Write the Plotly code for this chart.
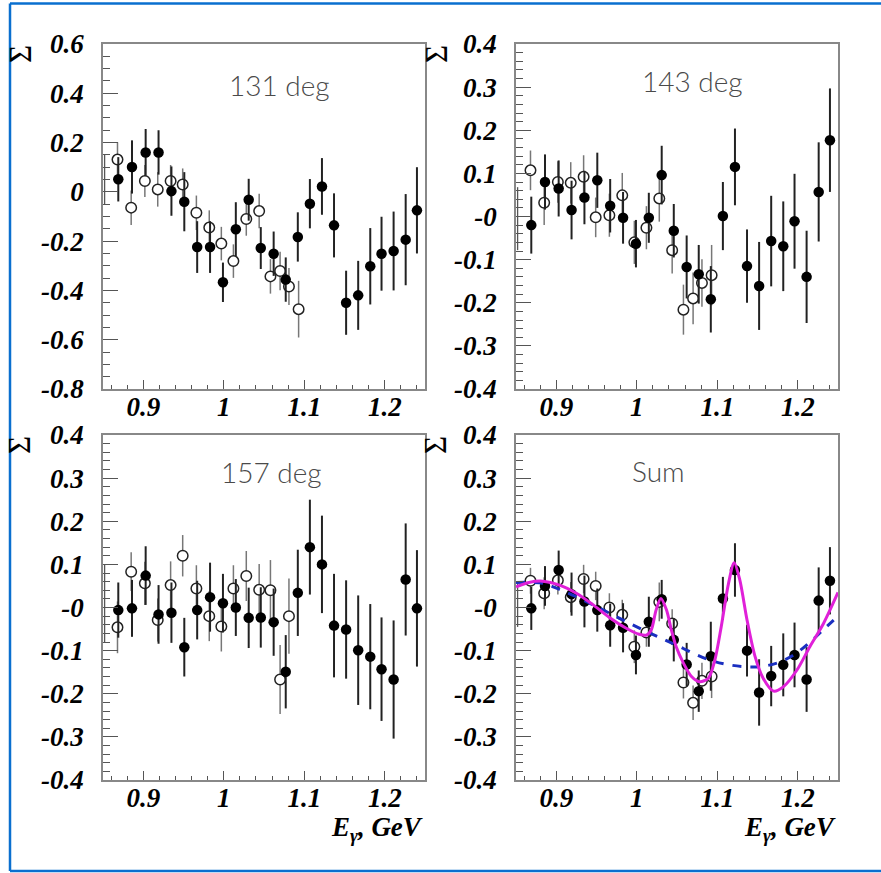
import plotly.graph_objects as go

# ---------------- data ----------------
E_FILLED = [0.869, 0.886, 0.903, 0.919, 0.935, 0.951, 0.967, 0.983, 0.999, 1.015, 1.031, 1.046, 1.062,
            1.077, 1.092, 1.107, 1.122, 1.137, 1.152, 1.167, 1.182, 1.196, 1.211, 1.226, 1.240]
E_OPEN = [0.868, 0.885, 0.902, 0.918, 0.934, 0.949, 0.966, 0.982, 0.997, 1.012, 1.028, 1.044, 1.058,
          1.070, 1.081, 1.093]

# 131 deg
s131_filled = [0.051, 0.101, 0.160, 0.160, 0.003, -0.040, -0.224, -0.224, -0.367, -0.152, -0.032, -0.228, -0.251,
               -0.356, -0.183, -0.048, 0.022, -0.136, -0.450, -0.420, -0.302, -0.251, -0.240, -0.194, -0.075]
e131_filled = [0.09, 0.108, 0.095, 0.09, 0.10, 0.12, 0.105, 0.105, 0.08, 0.11, 0.085, 0.085, 0.09,
               0.09, 0.10, 0.10, 0.115, 0.13, 0.13, 0.14, 0.155, 0.15, 0.16, 0.185, 0.175]
s131_open = [0.131, -0.064, 0.044, 0.010, 0.044, 0.030, -0.085, -0.145, -0.210, -0.281, -0.110, -0.078, -0.343,
             -0.321, -0.384, -0.476]
e131_open = [0.07, 0.07, 0.065, 0.07, 0.065, 0.065, 0.07, 0.07, 0.068, 0.068, 0.068, 0.07, 0.07, 0.078, 0.075, 0.115]

# 143 deg
s143_filled = [-0.020, 0.080, 0.065, 0.015, 0.044, 0.084, 0.025, -0.003, -0.063, -0.003, 0.096, -0.033, -0.117,
               -0.134, -0.192, 0.001, 0.115, -0.115, -0.161, -0.057, -0.069, -0.011, -0.140, 0.057, 0.177]
e143_filled = [0.066, 0.064, 0.065, 0.068, 0.062, 0.064, 0.062, 0.06, 0.055, 0.058, 0.068, 0.062, 0.073,
               0.068, 0.077, 0.079, 0.089, 0.085, 0.102, 0.105, 0.104, 0.11, 0.107, 0.115, 0.12]
s143_open = [0.107, 0.032, 0.080, 0.078, 0.092, -0.002, 0.003, 0.049, -0.060, -0.026, 0.042, -0.078, -0.216,
             -0.190, -0.154, -0.136]
e143_open = [0.046, 0.052, 0.048, 0.048, 0.05, 0.046, 0.05, 0.052, 0.05, 0.05, 0.054, 0.054, 0.058, 0.06, 0.055, 0.07]

# 157 deg
s157_filled = [-0.006, -0.002, 0.074, -0.016, -0.012, -0.092, -0.006, 0.024, 0.010, 0.000, -0.024, -0.023, -0.034,
               -0.149, 0.034, 0.140, 0.100, -0.042, -0.051, -0.099, -0.114, -0.143, -0.167, 0.065, -0.002]
e157_filled = [0.064, 0.066, 0.068, 0.068, 0.07, 0.068, 0.068, 0.08, 0.068, 0.066, 0.07, 0.07, 0.078,
               0.085, 0.1, 0.11, 0.113, 0.12, 0.114, 0.127, 0.122, 0.12, 0.137, 0.13, 0.135]
s157_open = [-0.046, 0.083, 0.056, -0.029, 0.052, 0.120, 0.044, -0.020, -0.044, 0.044, 0.073, 0.041, 0.040,
             -0.167, -0.020]
e157_open = [0.06, 0.045, 0.05, 0.05, 0.055, 0.048, 0.054, 0.058, 0.058, 0.054, 0.058, 0.06, 0.07, 0.08, 0.087]

# Sum
sSum_filled = [-0.002, 0.050, 0.087, 0.031, 0.014, -0.006, -0.041, -0.047, -0.110, -0.033, 0.019, -0.075, -0.132,
               -0.194, -0.113, 0.021, 0.087, -0.100, -0.197, -0.159, -0.133, -0.110, -0.167, 0.016, 0.062]
eSum_filled = [0.05, 0.046, 0.045, 0.05, 0.06, 0.05, 0.05, 0.057, 0.045, 0.058, 0.045, 0.05, 0.05,
               0.048, 0.08, 0.05, 0.062, 0.06, 0.077, 0.07, 0.073, 0.075, 0.075, 0.077, 0.078]
sSum_open = [0.062, 0.033, 0.063, 0.024, 0.066, 0.050, 0.000, -0.017, -0.091, -0.058, 0.013, -0.037, -0.174,
             -0.221, -0.170, -0.160]
eSum_open = [0.03, 0.037, 0.033, 0.035, 0.033, 0.033, 0.033, 0.035, 0.038, 0.033, 0.045, 0.033, 0.037, 0.04, 0.042, 0.05]

# fitted curves (Sum panel)
fit_res_E = [0.850, 0.866, 0.883, 0.904, 0.925, 0.946, 0.966, 0.987, 1.003, 1.012, 1.018, 1.024, 1.030, 1.037,
             1.043, 1.049, 1.058, 1.068, 1.078, 1.089, 1.097, 1.105, 1.114, 1.121, 1.128, 1.137, 1.147, 1.157,
             1.170, 1.182, 1.199, 1.215, 1.232, 1.250]
fit_res_S = [0.048, 0.058, 0.061, 0.052, 0.033, 0.006, -0.023, -0.048, -0.062, -0.064, -0.052, -0.006, 0.021, -0.006,
             -0.052, -0.091, -0.129, -0.160, -0.172, -0.164, -0.122, -0.044, 0.056, 0.104, 0.064, -0.029, -0.114, -0.164,
             -0.194, -0.184, -0.145, -0.091, -0.037, 0.035]
fit_bg_E = [0.850, 0.883, 0.904, 0.925, 0.946, 0.966, 0.987, 1.008, 1.028, 1.049, 1.070, 1.091, 1.112, 1.133,
            1.153, 1.174, 1.195, 1.216, 1.236, 1.250]
fit_bg_S = [0.058, 0.056, 0.042, 0.025, 0.006, -0.013, -0.033, -0.052, -0.069, -0.087, -0.106, -0.122, -0.132, -0.137,
            -0.137, -0.129, -0.110, -0.079, -0.044, -0.020]

# stray first-bin error lines at the left edge (as in the original)
edge_E = 0.852
edge_S = [0.05, -0.005, 0.01, 0.008]
edge_err = [0.10, 0.073, 0.09, 0.053]

panels = [
    ("131 deg", s131_filled, e131_filled, s131_open, e131_open, [-0.8, 0.6], 0.2, 0.05),
    ("143 deg", s143_filled, e143_filled, s143_open, e143_open, [-0.4, 0.4], 0.1, 0.02),
    ("157 deg", s157_filled, e157_filled, s157_open, e157_open, [-0.4, 0.4], 0.1, 0.02),
    ("Sum", sSum_filled, eSum_filled, sSum_open, eSum_open, [-0.4, 0.4], 0.1, 0.02),
]
X_TICKS = [0.9, 1.0, 1.1, 1.2]
X_TICKTEXT = ["0.9", "1", "1.1", "1.2"]

# ---------------- layout geometry (pixels) ----------------
W, H = 881, 873
px_x = [(103, 425), (516, 838), (103, 425), (516, 838)]
px_y = [(44, 389), (44, 389), (435, 780), (435, 780)]
title_pos = [(0.547, 0.881), (0.548, 0.893), (0.522, 0.894), (0.444, 0.896)]

fig = go.Figure()
tick_font = dict(family="Liberation Serif", size=27, color="black", weight="bold", style="italic")
layout = dict(width=W, height=H, margin=dict(l=0, r=0, t=0, b=0, autoexpand=False), paper_bgcolor="white",
              plot_bgcolor="white", showlegend=False)
annotations = []

for i, (name, sf, ef, so, eo, yr, ymaj, ymin) in enumerate(panels):
    n = i + 1
    xa = "x" if n == 1 else f"x{n}"
    ya = "y" if n == 1 else f"y{n}"
    # stray edge error line
    fig.add_trace(go.Scatter(x=[edge_E], y=[edge_S[i]], mode="markers", xaxis=xa, yaxis=ya,
                             marker=dict(size=1, color="rgba(0,0,0,0)"),
                             error_y=dict(type="data", array=[edge_err[i]], width=0, thickness=1.3, color="#555")))
    eo_x = E_OPEN[:len(so)]
    fig.add_trace(go.Scatter(x=eo_x, y=so, mode="markers", xaxis=xa, yaxis=ya,
                             marker=dict(symbol="circle", size=10.5, color="white", line=dict(color="#222", width=1.5)),
                             error_y=dict(type="data", array=eo, width=0, thickness=1.5, color="#777")))
    fig.add_trace(go.Scatter(x=E_FILLED, y=sf, mode="markers", xaxis=xa, yaxis=ya,
                             marker=dict(symbol="circle", size=10.5, color="black", line=dict(color="black", width=0)),
                             error_y=dict(type="data", array=ef, width=0, thickness=2, color="#222")))
    if name == "Sum":
        fig.add_trace(go.Scatter(x=fit_bg_E, y=fit_bg_S, mode="lines", xaxis=xa, yaxis=ya,
                                 line=dict(color="#1a2fc0", width=3, dash="dash", shape="spline")))
        fig.add_trace(go.Scatter(x=fit_res_E, y=fit_res_S, mode="lines", xaxis=xa, yaxis=ya,
                                 line=dict(color="#e020d8", width=3, shape="spline", smoothing=0.8)))

    x0, x1 = px_x[i]
    y0, y1 = px_y[i]
    nyt = int(round((yr[1] - yr[0]) / ymaj))
    yvals = [round(yr[0] + k * ymaj, 3) for k in range(nyt + 1)]
    if n == 1:
        ytext = [("0" if abs(v) < 1e-9 else f"{v:g}") for v in yvals]
    else:
        ytext = [("-0" if abs(v) < 1e-9 else f"{v:g}") for v in yvals]

    layout["xaxis" if n == 1 else f"xaxis{n}"] = dict(
        domain=[x0 / W, x1 / W], anchor=ya, range=[0.85, 1.25], showgrid=False, zeroline=False,
        showline=True, mirror=True, linecolor="#888", linewidth=1.5,
        tickmode="array", tickvals=X_TICKS, ticktext=X_TICKTEXT, ticks="inside", ticklen=9,
        tickwidth=1.3, tickcolor="#555", tickfont=tick_font, ticklabelstandoff=-7,
        minor=dict(tickmode="linear", tick0=0, dtick=0.02, ticks="inside", ticklen=4, tickwidth=1.2,
                   tickcolor="#555", showgrid=False))
    layout["yaxis" if n == 1 else f"yaxis{n}"] = dict(
        domain=[1 - y1 / H, 1 - y0 / H], anchor=xa, range=yr, showgrid=False, zeroline=False,
        showline=True, mirror=True, linecolor="#888", linewidth=1.5,
        tickmode="array", tickvals=yvals, ticktext=ytext, ticks="inside", ticklen=15,
        tickwidth=1.3, tickcolor="#555", tickfont=tick_font, ticklabelstandoff=12,
        minor=dict(tickmode="linear", tick0=0, dtick=ymin, ticks="inside", ticklen=7, tickwidth=1.2,
                   tickcolor="#555", showgrid=False))

    tx, ty = title_pos[i]
    annotations.append(dict(text=name, x=tx, y=ty, xref=f"{xa} domain", yref=f"{ya} domain",
                            showarrow=False, xanchor="center", yanchor="middle",
                            font=dict(family="Lato", size=28, color="#4a4a4a", weight=300)))
    # Sigma axis title (rotated)
    annotations.append(dict(text="Σ", x=(20 if i % 2 == 0 else 436) / W, y=1 - (y0 + 10) / H,
                            xref="paper", yref="paper", showarrow=False, textangle=-90,
                            xanchor="center", yanchor="middle",
                            font=dict(family="Liberation Serif", size=31, color="black")))
    if n >= 3:
        annotations.append(dict(text="E<sub>γ</sub>, GeV", x=x1 / W, y=1 - 829 / H, xref="paper", yref="paper",
                                showarrow=False, xanchor="right", yanchor="middle",
                                font=dict(family="Liberation Serif", size=27, color="black",
                                          weight="bold", style="italic")))

layout["annotations"] = annotations
frame_col = "#0a6fcf"
layout["shapes"] = [
    dict(type="line", xref="paper", yref="paper", x0=10 / W, x1=1, y0=1 - 3.5 / H, y1=1 - 3.5 / H,
         line=dict(color=frame_col, width=2.5)),
    dict(type="line", xref="paper", yref="paper", x0=10 / W, x1=10 / W, y0=1 - 3.5 / H, y1=1 - 871 / H,
         line=dict(color=frame_col, width=2.5)),
    dict(type="line", xref="paper", yref="paper", x0=10 / W, x1=1, y0=1 - 871 / H, y1=1 - 871 / H,
         line=dict(color=frame_col, width=2.5)),
]
fig.update_layout(**layout)
fig.write_html("out.html")
